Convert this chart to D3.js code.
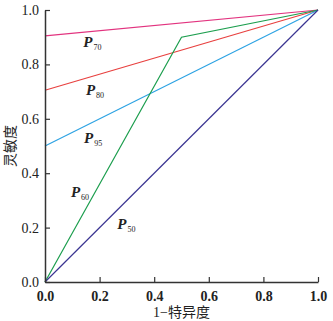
<!DOCTYPE html>
<html>
<head>
<meta charset="utf-8">
<script src="https://cdn.jsdelivr.net/npm/d3@7"></script>
<style>
  body { margin: 0; background: #fff; }
  svg text { font-family: "Liberation Serif", "DejaVu Serif", serif; }
</style>
</head>
<body>
<div id="chart"></div>
<script>
// ROC curves for each percentile cut-off
const seriesNames = ["P70", "P80", "P95", "P60", "P50"];
const seriesSubs = ["70", "80", "95", "60", "50"];
const seriesColors = ["#e2337f", "#e8403f", "#2ea3e3", "#1c9e4e", "#3b3592"];
const seriesX = [
  [0, 1],
  [0, 1],
  [0, 1],
  [0, 0.5, 1],
  [0, 1]
];
const seriesY = [
  [0.905, 1],
  [0.705, 1],
  [0.5, 1],
  [0, 0.9, 1],
  [0, 1]
];
// label anchor in data units
const labelX = [0.14, 0.15, 0.143, 0.095, 0.265];
const labelY = [0.865, 0.688, 0.51, 0.312, 0.195];
const tickVals = [0, 0.2, 0.4, 0.6, 0.8, 1.0];

const width = 333, height = 321;
const margin = { top: 10, right: 15, bottom: 39, left: 45 };

const svg = d3.select("#chart").append("svg")
    .attr("width", width)
    .attr("height", height);

const x = d3.scaleLinear().domain([0, 1]).range([margin.left, width - margin.right]);
const y = d3.scaleLinear().domain([0, 1]).range([height - margin.bottom, margin.top]);

const line = d3.line()
    .x(d => x(d[0]))
    .y(d => y(d[1]));

svg.append("g")
    .selectAll("path")
    .data(seriesNames)
    .enter().append("path")
    .attr("d", (d, i) => line(seriesX[i].map((v, j) => [v, seriesY[i][j]])))
    .attr("fill", "none")
    .attr("stroke", (d, i) => seriesColors[i])
    .attr("stroke-width", 1.2);

// axes, ticks pointing inward
const xAxis = svg.append("g")
    .attr("transform", `translate(0, ${y(0)})`)
    .call(d3.axisBottom(x).tickValues(tickVals).tickFormat(d3.format(".1f")).tickSize(-5).tickSizeOuter(0).tickPadding(9));

const yAxis = svg.append("g")
    .attr("transform", `translate(${x(0)}, 0)`)
    .call(d3.axisLeft(y).tickValues(tickVals).tickFormat(d3.format(".1f")).tickSize(-5).tickSizeOuter(0).tickPadding(6));

[xAxis, yAxis].forEach(a => {
    a.select(".domain").attr("stroke", "#333").attr("stroke-width", 1.5);
    a.selectAll(".tick line").attr("stroke", "#333").attr("stroke-width", 1.2);
    a.selectAll(".tick text")
        .attr("fill", "#222")
        .attr("font-size", 14)
        .style("font-family", "'Liberation Serif', serif");
});
xAxis.selectAll(".tick text").attr("font-weight", "bold");

// axis titles
svg.append("text")
    .attr("x", (x(0) + x(1)) / 2)
    .attr("y", 317)
    .attr("text-anchor", "middle")
    .attr("font-size", 14)
    .attr("fill", "#222")
    .style("font-family", "'Liberation Serif', 'Noto Sans CJK SC', serif")
    .text("1−特异度");

svg.append("text")
    .attr("transform", `translate(15, ${(y(0) + y(1)) / 2}) rotate(-90)`)
    .attr("text-anchor", "middle")
    .attr("font-size", 14)
    .attr("fill", "#222")
    .style("font-family", "'Noto Sans CJK SC', sans-serif")
    .text("灵敏度");

// series labels: italic bold P with small subscript
const labels = svg.append("g")
    .selectAll("text")
    .data(seriesNames)
    .enter().append("text")
    .attr("x", (d, i) => x(labelX[i]))
    .attr("y", (d, i) => y(labelY[i]))
    .attr("fill", "#222");

labels.append("tspan")
    .text("P")
    .attr("font-size", 15)
    .attr("font-style", "italic")
    .attr("font-weight", "bold");

labels.append("tspan")
    .text((d, i) => seriesSubs[i])
    .attr("font-size", 8)
    .attr("dx", 1)
    .attr("dy", 3);
</script>
</body>
</html>
